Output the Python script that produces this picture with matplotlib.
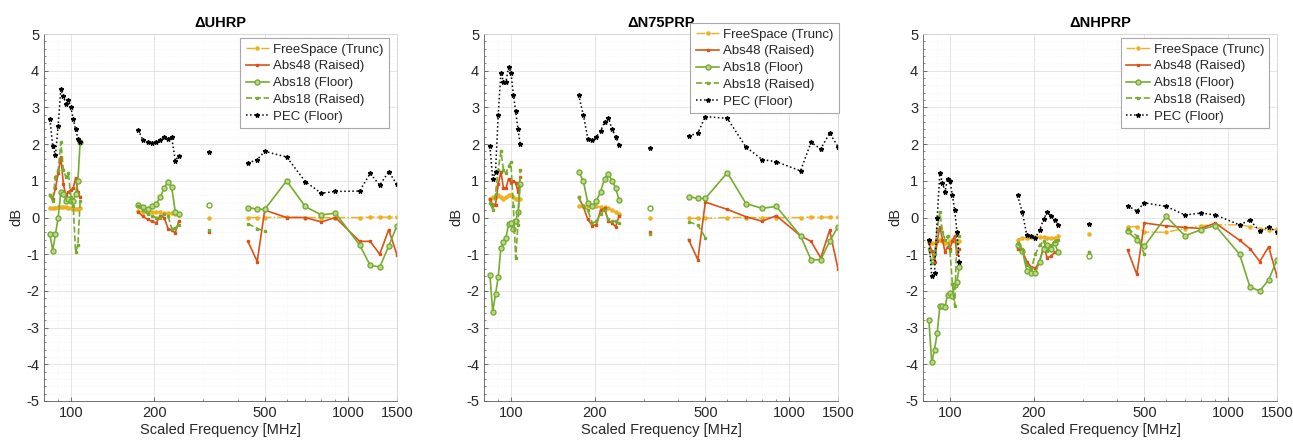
import matplotlib
matplotlib.use('Agg')
import matplotlib.pyplot as plt
from matplotlib.ticker import FixedLocator, NullFormatter, MultipleLocator, LogLocator, FixedFormatter

plt.rcParams['font.family'] = ['Liberation Sans', 'DejaVu Sans']
plt.rcParams['axes.unicode_minus'] = False

# ---------------- data ----------------
F_LOW = [84, 86, 88, 90, 92, 94, 96, 98, 100, 102, 104, 106, 108]
F_MID = [175, 182, 189, 196, 203, 210, 217, 224, 231, 238, 245]
F_ONE = [315]
F_HIGH = [435, 470, 500, 600, 700, 800, 900, 1100, 1200, 1300, 1400, 1500]

TITLES = ["\u0394UHRP", "\u0394N75PRP", "\u0394NHPRP"]
SERIES = ["FreeSpace (Trunc)", "Abs48 (Raised)", "Abs18 (Floor)", "Abs18 (Raised)", "PEC (Floor)"]
X_TICKS = [100, 200, 500, 1000, 1500]
Y_TICKS = [-5, -4, -3, -2, -1, 0, 1, 2, 3, 4, 5]

# each series: (low band, mid band, single point, high band)
UHRP_FS = ([0.25, 0.26, 0.27, 0.28, 0.28, 0.29, 0.28, 0.27, 0.25, 0.23, 0.22, 0.23, 0.25],
           [0.17, 0.16, 0.15, 0.15, 0.14, 0.14, 0.13, 0.12, 0.12, 0.10, 0.08],
           [0.0],
           [0.0, 0.0, 0.0, 0.01, 0.0, 0.0, 0.0, 0.0, 0.01, 0.01, 0.01, 0.01])
UHRP_A48 = ([0.62, 0.50, 0.80, 1.20, 1.65, 0.90, 0.60, 0.70, 0.75, 0.80, 1.07, 0.70, 0.55],
            [0.15, 0.03, -0.05, -0.10, -0.15, 0.05, 0.00, -0.30, -0.35, -0.42, -0.10],
            [-0.40],
            [-0.65, -1.20, 0.20, 0.00, 0.00, -0.12, 0.00, -0.65, -0.65, -1.00, -0.33, -1.02])
UHRP_A18F = ([-0.45, -0.90, -0.45, 0.00, 0.70, 0.65, 0.45, 0.50, 0.45, 0.45, 0.65, 1.00, 2.05],
             [0.35, 0.28, 0.22, 0.30, 0.38, 0.55, 0.80, 0.98, 0.82, 0.15, 0.10],
             [0.35],
             [0.27, 0.23, 0.22, 1.00, 0.30, 0.07, 0.12, -0.75, -1.30, -1.35, -0.78, -0.22])
UHRP_A18R = ([0.60, 0.45, 1.10, 1.30, 2.05, 1.30, 1.10, 1.20, 0.55, 0.30, -0.95, -0.75, 0.45],
             [0.30, 0.20, 0.10, 0.05, 0.00, 0.00, 0.10, 0.05, -0.30, -0.28, -0.20],
             [-0.35],
             [-0.17, -0.30, -0.38])
UHRP_PEC = ([2.68, 1.95, 1.70, 2.50, 3.50, 3.30, 3.10, 3.20, 3.00, 2.68, 2.40, 2.15, 2.05],
            [2.39, 2.10, 2.05, 2.02, 2.07, 2.12, 2.20, 2.14, 2.18, 1.55, 1.68],
            [1.78],
            [1.48, 1.58, 1.80, 1.65, 0.98, 0.66, 0.71, 0.72, 1.20, 0.88, 1.25, 0.90])

N75_FS = ([0.50, 0.55, 0.55, 0.60, 0.55, 0.50, 0.55, 0.62, 0.60, 0.55, 0.50, 0.50, 0.50],
          [0.30, 0.30, 0.30, 0.30, 0.30, 0.28, 0.28, 0.25, 0.20, 0.15, 0.10],
          [0.0],
          [-0.02, -0.02, -0.02, 0.0, 0.0, 0.0, 0.0, 0.0, 0.01, 0.01, 0.01, 0.01])
N75_A48 = ([0.50, 0.35, 0.35, 0.90, 1.25, 0.80, 0.80, 1.05, 0.95, 1.00, 0.95, 0.70, 1.10],
           [0.55, 0.30, -0.05, -0.22, -0.20, 0.20, 0.25, -0.10, -0.15, -0.25, 0.05],
           [-0.40],
           [-0.60, -1.15, 0.42, 0.22, 0.02, -0.10, 0.05, -0.50, -0.65, -1.10, -0.35, -1.40])
N75_A18F = ([-1.56, -2.57, -2.09, -1.62, -0.84, -0.68, -0.55, -0.18, -0.14, -0.32, -0.09, 0.14, 0.90],
            [1.25, 1.00, 0.40, 0.30, 0.45, 0.70, 1.05, 1.18, 1.00, 0.80, 0.47],
            [0.25],
            [0.57, 0.52, 0.52, 1.22, 0.38, 0.25, 0.30, -0.50, -1.15, -1.15, -0.65, -0.25])
N75_A18R = ([0.40, 0.20, 0.65, 1.30, 1.80, 1.30, 1.20, 1.40, 1.50, 0.30, -1.10, -0.20, 1.30],
            [0.55, 0.30, 0.20, -0.15, -0.10, 0.10, 0.20, -0.05, -0.10, -0.10, -0.15],
            [-0.45],
            [-0.12, -0.20, -0.55])
N75_PEC = ([1.95, 1.05, 1.25, 2.80, 3.95, 3.70, 3.70, 4.10, 3.95, 3.35, 2.90, 2.40, 2.00],
           [3.35, 2.80, 2.15, 2.10, 2.20, 2.35, 2.60, 2.72, 2.40, 2.20, 1.97],
           [1.90],
           [2.22, 2.30, 2.75, 2.70, 1.92, 1.58, 1.52, 1.27, 2.05, 1.87, 2.30, 1.93])

NH_FS = ([-0.65, -0.70, -0.70, -0.65, -0.60, -0.65, -0.70, -0.70, -0.65, -0.60, -0.65, -0.70, -0.65],
         [-0.60, -0.55, -0.55, -0.52, -0.52, -0.52, -0.53, -0.55, -0.55, -0.55, -0.50],
         [-0.45],
         [-0.25, -0.25, -0.40, -0.40, -0.30, -0.22, -0.20, -0.20, -0.25, -0.30, -0.35, -0.32])
NH_A48 = ([-0.70, -0.90, -1.20, -0.65, -0.25, -0.60, -0.95, -0.80, -0.85, -0.65, -0.50, -1.00, -0.85],
          [-0.85, -0.90, -1.20, -1.35, -1.38, -1.20, -0.80, -1.10, -1.05, -0.95, -0.95],
          [-0.95],
          [-0.88, -1.55, -0.15, -0.23, -0.27, -0.30, -0.15, -0.62, -0.85, -1.20, -0.80, -1.60])
NH_A18F = ([-2.80, -3.95, -3.60, -3.15, -2.40, -2.40, -2.45, -2.10, -2.05, -2.15, -1.85, -1.75, -1.35],
           [-0.75, -0.90, -1.45, -1.50, -1.50, -1.20, -0.85, -0.75, -0.85, -0.70, -0.95],
           [-1.05],
           [-0.38, -0.60, -0.78, 0.03, -0.50, -0.33, -0.22, -1.00, -1.90, -2.00, -1.70, -1.15])
NH_A18R = ([-0.85, -1.25, -1.00, -0.30, 0.15, -0.40, -0.60, -0.50, -0.90, -1.80, -2.40, -0.45, -0.50],
           [-0.70, -0.85, -1.30, -1.40, -1.00, -0.75, -0.65, -0.90, -0.75, -0.65, -0.60],
           [-0.95],
           [-0.30, -0.50, -1.00])
NH_PEC = ([-0.60, -1.60, -1.50, 0.00, 1.20, 0.95, 0.70, 1.05, 1.00, 0.60, 0.20, -0.40, -1.20],
          [0.60, 0.15, -0.48, -0.50, -0.55, -0.35, -0.05, 0.15, 0.05, -0.08, -0.20],
          [-0.17],
          [0.32, 0.18, 0.40, 0.30, 0.07, 0.12, 0.07, -0.20, -0.07, -0.38, -0.25, -0.40])

PANELS = [
    [UHRP_FS, UHRP_A48, UHRP_A18F, UHRP_A18R, UHRP_PEC],
    [N75_FS, N75_A48, N75_A18F, N75_A18R, N75_PEC],
    [NH_FS, NH_A48, NH_A18F, NH_A18R, NH_PEC],
]

# ---------------- styles ----------------
STYLES = [
    dict(color='#EDB120', ls='-.', marker='.', ms=4.5, lw=1.0),
    dict(color='#D95319', ls='-', marker='s', ms=2.0, lw=1.2),
    dict(color='#77AC30', ls='-', marker='o', ms=3.6, mfc='#b9d98f', mec='#77AC30', lw=1.2),
    dict(color='#77AC30', ls='--', marker='s', ms=2.0, lw=1.2),
    dict(color='black', ls=':', marker='*', ms=3.2, lw=1.1),
]

W, H = 1293, 443
AX_X = [(44, 397), (484, 838), (923, 1277)]
AX_TOP, AX_BOT = 34, 401
LEG_ANCHOR = [(0.977, 0.989), (1.003, 1.03), (0.978, 0.989)]
TXT = '#262626'

fig = plt.figure(figsize=(W / 100, H / 100), dpi=100)
for p in range(3):
    x0, x1 = AX_X[p]
    ax = fig.add_axes([x0 / W, 1 - AX_BOT / H, (x1 - x0) / W, (AX_BOT - AX_TOP) / H])
    ax.set_xscale('log')
    for s, series in enumerate(PANELS[p]):
        st = dict(STYLES[s])
        bands = [F_LOW, F_MID, F_ONE, F_HIGH]
        for b, vals in enumerate(series):
            fr = bands[b][:len(vals)]
            kw = dict(st)
            if s == 2 and b == 2:
                kw['mfc'] = 'white'
            ax.plot(fr, vals, label=SERIES[s] if b == 0 else None, **kw)
    ax.set_xlim(80, 1500)
    ax.set_ylim(-5, 5)
    ax.xaxis.set_major_locator(FixedLocator(X_TICKS))
    ax.xaxis.set_major_formatter(FixedFormatter([str(t) for t in X_TICKS]))
    ax.xaxis.set_minor_locator(LogLocator(base=10, subs=[2, 3, 4, 5, 6, 7, 8, 9]))
    ax.xaxis.set_minor_formatter(NullFormatter())
    ax.yaxis.set_major_locator(FixedLocator(Y_TICKS))
    ax.yaxis.set_minor_locator(MultipleLocator(0.2))
    ax.grid(which='major', color='#e0e0e0', lw=0.6)
    ax.grid(which='minor', color='#f0f0f0', lw=0.5, ls=':')
    ax.set_axisbelow(True)
    for side in ['top', 'right']:
        ax.spines[side].set_color('#d5d5d5')
        ax.spines[side].set_linewidth(0.6)
    for side in ['left', 'bottom']:
        ax.spines[side].set_color('#5a5a5a')
        ax.spines[side].set_linewidth(0.6)
    ax.tick_params(which='major', direction='in', length=3, width=0.6, colors='#5a5a5a',
                   labelcolor=TXT, labelsize=10.5)
    ax.tick_params(which='minor', direction='in', length=1.5, width=0.5, colors='#5a5a5a')
    ax.set_xlabel('Scaled Frequency [MHz]', fontsize=10.5, color=TXT, labelpad=2)
    ax.set_ylabel('dB', fontsize=10.5, color=TXT, labelpad=2)
    ax.set_title(TITLES[p], fontsize=10.5, fontweight='bold', color='black', pad=5)
    leg = ax.legend(loc='upper right', bbox_to_anchor=LEG_ANCHOR[p], fontsize=9.5,
                    frameon=True, fancybox=False, framealpha=1, edgecolor='#a8a8a8',
                    borderaxespad=0, handlelength=1.8, handletextpad=0.3,
                    labelspacing=0.35, borderpad=0.4)
    leg.get_frame().set_linewidth(0.8)
    for t in leg.get_texts():
        t.set_color(TXT)

fig.savefig('out.png', dpi=100)
